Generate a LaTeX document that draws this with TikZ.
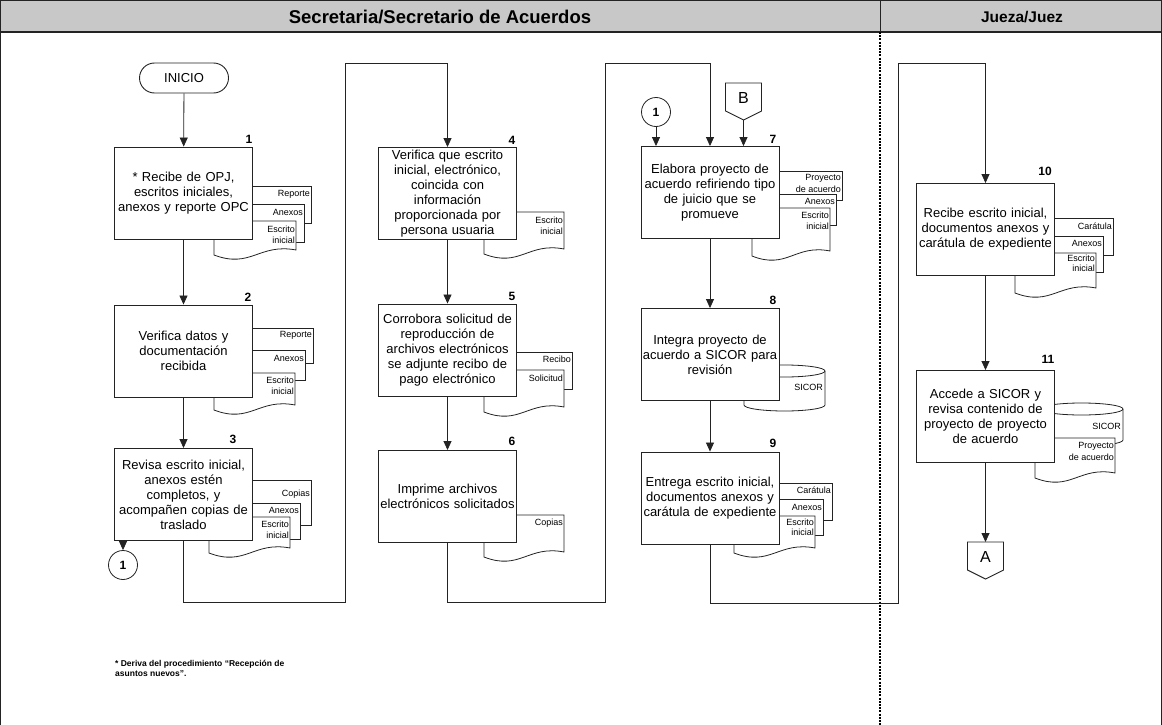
\documentclass[tikz,border=0pt]{standalone}
\usepackage{fontspec}
\setmainfont{Liberation Sans}
\usetikzlibrary{arrows.meta}
\definecolor{headgray}{RGB}{200,200,200}
\definecolor{ink}{RGB}{35,35,35}

% front document with wavy bottom: left x, top y, right x, bottom-left y
\newcommand\flowdoc[4]{%
  \path[docln] (#1,#2) -- (#3,#2) -- (#3,{#4-5})
    .. controls ({#1+0.55*(#3-#1)},{#4-12}) and ({#1+0.45*(#3-#1)},{#4+14}) .. (#1,#4) -- cycle;}
% document partly hidden behind the front one
\newcommand\flowsheet[4]{\path[docln] (#1,#2) rectangle (#3,#4);}
% database cylinder: left x, right x, top centre y, bottom centre y
\newcommand\flowdb[4]{%
  \path[docln] (#1,#3) -- (#1,#4) arc[start angle=180,end angle=360,x radius={(#2-#1)/2*1pt},y radius=6pt]
    -- (#2,#3) arc[start angle=0,end angle=180,x radius={(#2-#1)/2*1pt},y radius=6pt] -- cycle;
  \draw[docln,fill=none] (#1,#3) arc[start angle=180,end angle=360,x radius={(#2-#1)/2*1pt},y radius=6pt];}
% off-page connector pointing down: centre x, top y
\newcommand\flowoff[2]{%
  \path[docln,line width=0.9pt] ({#1-18},#2) -- ({#1+18},#2) -- ({#1+18},{#2+28}) -- (#1,{#2+37}) -- ({#1-18},{#2+28}) -- cycle;}

\tikzset{
  task/.style={draw=ink, line width=0.9pt, fill=white, minimum width=138pt, minimum height=92pt,
    text width=137pt, align=center, inner sep=0.5pt, font=\fontsize{13}{15}\selectfont},
  num/.style={font=\bfseries\fontsize{12}{12}\selectfont, inner sep=0pt},
  doclbl/.style={font=\fontsize{9}{10}\selectfont, inner sep=0pt, anchor=east},
  docln/.style={draw=ink, line width=0.8pt, fill=white},
  flow/.style={draw=ink, line width=0.8pt},
  arr/.style={flow, -{Triangle[length=9pt,width=8pt]}},
  conn/.style={circle, draw=ink, line width=0.8pt, fill=white, minimum size=29pt, inner sep=0pt,
    font=\bfseries\fontsize{12}{12}\selectfont},
  lane/.style={font=\bfseries\fontsize{18.5}{18.5}\selectfont, inner sep=0pt},
}

\begin{document}
\begin{tikzpicture}[x=1pt,y=-1pt]
\useasboundingbox (0,0) rectangle (1162,725);

% lanes
\fill[headgray] (0,0) rectangle (1162,32);
\draw[ink,line width=1.6pt] (0,32) -- (1162,32);
\draw[ink,line width=0.8pt] (880,0) -- (880,32);
\draw[line width=1.8pt, dash pattern=on 2pt off 1.2pt] (880,32) -- (880,725);
\draw[ink,line width=1pt] (0.5,725) -- (0.5,0.5) -- (1161.5,0.5) -- (1161.5,725);
\node[lane] (lane1) at (440,17) {Secretaria/Secretario de Acuerdos};
\node[lane,font=\bfseries\fontsize{15.5}{15.5}\selectfont] (lane2) at (1022,17) {Jueza/Juez};

% documents and databases (behind the activity boxes)
\flowsheet{230}{186}{311}{223}
\flowsheet{222}{204}{304}{242}
\flowdoc{214}{221}{296}{255}
\flowsheet{230}{328}{313}{363}
\flowsheet{222}{350}{305}{380}
\flowdoc{214}{373}{295}{410}
\flowsheet{225}{480}{311}{525}
\flowsheet{217}{503}{300}{539}
\flowdoc{209}{517}{290}{553}
\flowdoc{484}{212}{564}{254}
\flowsheet{500}{352}{572}{389}
\flowdoc{484}{370}{564}{412}
\flowdoc{484}{515}{564}{557}
\flowsheet{770}{171}{842}{200}
\flowsheet{762}{194}{836}{225}
\flowdoc{752}{208}{830}{256}
\flowdb{744}{825}{371}{405}
\flowsheet{750}{483}{832}{520}
\flowsheet{742}{499}{823}{535}
\flowdoc{734}{516}{815}{553}
\flowsheet{1031}{218}{1113}{255}
\flowsheet{1023}{236}{1103}{272}
\flowdoc{1015}{253}{1096}{293}
\flowdb{1040}{1123}{409}{440}
\flowdoc{1035}{438}{1115}{478}

% document labels
\node[doclbl] (d1a) at (310,194) {Reporte};
\node[doclbl] (d1b) at (303,212) {Anexos};
\node[doclbl] (d1c) at (295,229) {Escrito};
\node[doclbl] (d1d) at (295,240) {inicial};
\node[doclbl] (d2a) at (312,335) {Reporte};
\node[doclbl] (d2b) at (304,358) {Anexos};
\node[doclbl] (d2c) at (294,380) {Escrito};
\node[doclbl] (d2d) at (294,391) {inicial};
\node[doclbl] (d3a) at (310,494) {Copias};
\node[doclbl] (d3b) at (299,510) {Anexos};
\node[doclbl] (d3c) at (289,524) {Escrito};
\node[doclbl] (d3d) at (289,535) {inicial};
\node[doclbl] (d4a) at (563,220) {Escrito};
\node[doclbl] (d4b) at (563,231) {inicial};
\node[doclbl] (d5a) at (571,359) {Recibo};
\node[doclbl] (d5b) at (563,378) {Solicitud};
\node[doclbl] (d6a) at (563,523) {Copias};
\node[doclbl] (d7a) at (841,178) {Proyecto};
\node[doclbl] (d7b) at (841,189) {de acuerdo};
\node[doclbl] (d7c) at (835,201) {Anexos};
\node[doclbl] (d7d) at (829,215) {Escrito};
\node[doclbl] (d7e) at (829,226) {inicial};
\node[doclbl] (d8a) at (823,387) {SICOR};
\node[doclbl] (d9a) at (831,490) {Carátula};
\node[doclbl] (d9b) at (822,507) {Anexos};
\node[doclbl] (d9c) at (814,522) {Escrito};
\node[doclbl] (d9d) at (814,532) {inicial};
\node[doclbl] (d10a) at (1112,226) {Carátula};
\node[doclbl] (d10b) at (1102,243) {Anexos};
\node[doclbl] (d10c) at (1095,258) {Escrito};
\node[doclbl] (d10d) at (1095,268) {inicial};
\node[doclbl] (d11a) at (1121,426) {SICOR};
\node[doclbl] (d11b) at (1114,446) {Proyecto};
\node[doclbl] (d11c) at (1114,457) {de acuerdo};

% start
\node[draw=ink, line width=0.9pt, fill=white, rounded corners=15pt, minimum width=89pt, minimum height=30pt,
  inner sep=0pt, font=\fontsize{13}{13}\selectfont] (ini) at (184,78) {INICIO};

% activities
\node[task] (b1) at (183.5,193) {* Recibe de OPJ,\\escritos iniciales,\\anexos y reporte OPC};
\node[task] (b2) at (183.5,351) {Verifica datos y\\documentación\\recibida};
\node[task] (b3) at (183.5,494.5) {Revisa escrito inicial,\\anexos estén\\completos, y\\acompañen copias de\\traslado};
\node[task] (b4) at (447.5,193.5) {Verifica que escrito\\inicial, electrónico,\\coincida con\\información\\proporcionada por\\persona usuaria};
\node[task] (b5) at (447.5,350) {Corrobora solicitud de\\reproducción de\\archivos electrónicos\\se adjunte recibo de\\pago electrónico};
\node[task] (b6) at (447.5,496.5) {Imprime archivos\\electrónicos solicitados};
\node[task] (b7) at (710,192.5) {Elabora proyecto de\\acuerdo refiriendo tipo\\de juicio que se\\promueve};
\node[task] (b8) at (710,354.5) {Integra proyecto de\\acuerdo a SICOR para\\revisión};
\node[task] (b9) at (710,498) {Entrega escrito inicial,\\documentos anexos y\\carátula de expediente};
\node[task] (b10) at (985.5,229.5) {Recibe escrito inicial,\\documentos anexos y\\carátula de expediente};
\node[task] (b11) at (985.5,416.5) {Accede a SICOR y\\revisa contenido de\\proyecto de proyecto\\de acuerdo};

% step numbers
\node[num] (n1) at (249,139) {1};
\node[num] (n2) at (248,297) {2};
\node[num] (n3) at (233,439) {3};
\node[num] (n4) at (512,140) {4};
\node[num] (n5) at (512,296) {5};
\node[num] (n6) at (512,441) {6};
\node[num] (n7) at (773,139) {7};
\node[num] (n8) at (773,300) {8};
\node[num] (n9) at (773,443) {9};
\node[num] (n10) at (1045,171) {10};
\node[num] (n11) at (1048,359) {11};

% connectors
\node[conn] (c1) at (123,565) {1};
\node[conn] (c2) at (656,112) {1};
\flowoff{743.5}{83}
\node[font=\fontsize{16}{16}\selectfont, inner sep=0pt] (offB) at (743.5,98) {B};
\coordinate (offBtip) at (743.5,120);
\flowoff{985.5}{542}
\node[font=\fontsize{16}{16}\selectfont, inner sep=0pt] (offA) at (985.5,557) {A};
\coordinate (offAtop) at (985.5,542);

% routing points of the column jumps
\coordinate (r1a) at (345,602);
\coordinate (r1b) at (345,63);
\coordinate (r2a) at (605,602);
\coordinate (r2b) at (605,63);
\coordinate (r3a) at (898,603);
\coordinate (r3b) at (898,63);

\draw[arr] (ini) -- (b1);
\draw[arr] (b1) -- (b2);
\draw[arr] (b2) -- (b3);
\draw[arr] (c1 |- b3.south) -- (c1);
\draw[arr] (b3.south) |- (r1a) -- (r1b) -| (b4.north);
\draw[arr] (b4) -- (b5);
\draw[arr] (b5) -- (b6);
\draw[arr] (b6.south) |- (r2a) -- (r2b) -| (b7.north);
\draw[arr] (c2) -- (c2 |- b7.north);
\draw[arr] (offBtip) -- (offBtip |- b7.north);
\draw[arr] (b7) -- (b8);
\draw[arr] (b8) -- (b9);
\draw[arr] (b9.south) |- (r3a) -- (r3b) -| (b10.north);
\draw[arr] (b10) -- (b11);
\draw[arr] (b11) -- (offAtop);

% footnote
\node[anchor=north west, align=left, inner sep=0pt, font=\bfseries\fontsize{8.5}{10.5}\selectfont] (note) at (115,660)
  {* Deriva del procedimiento “Recepción de\\asuntos nuevos”.};
\end{tikzpicture}
\end{document}
